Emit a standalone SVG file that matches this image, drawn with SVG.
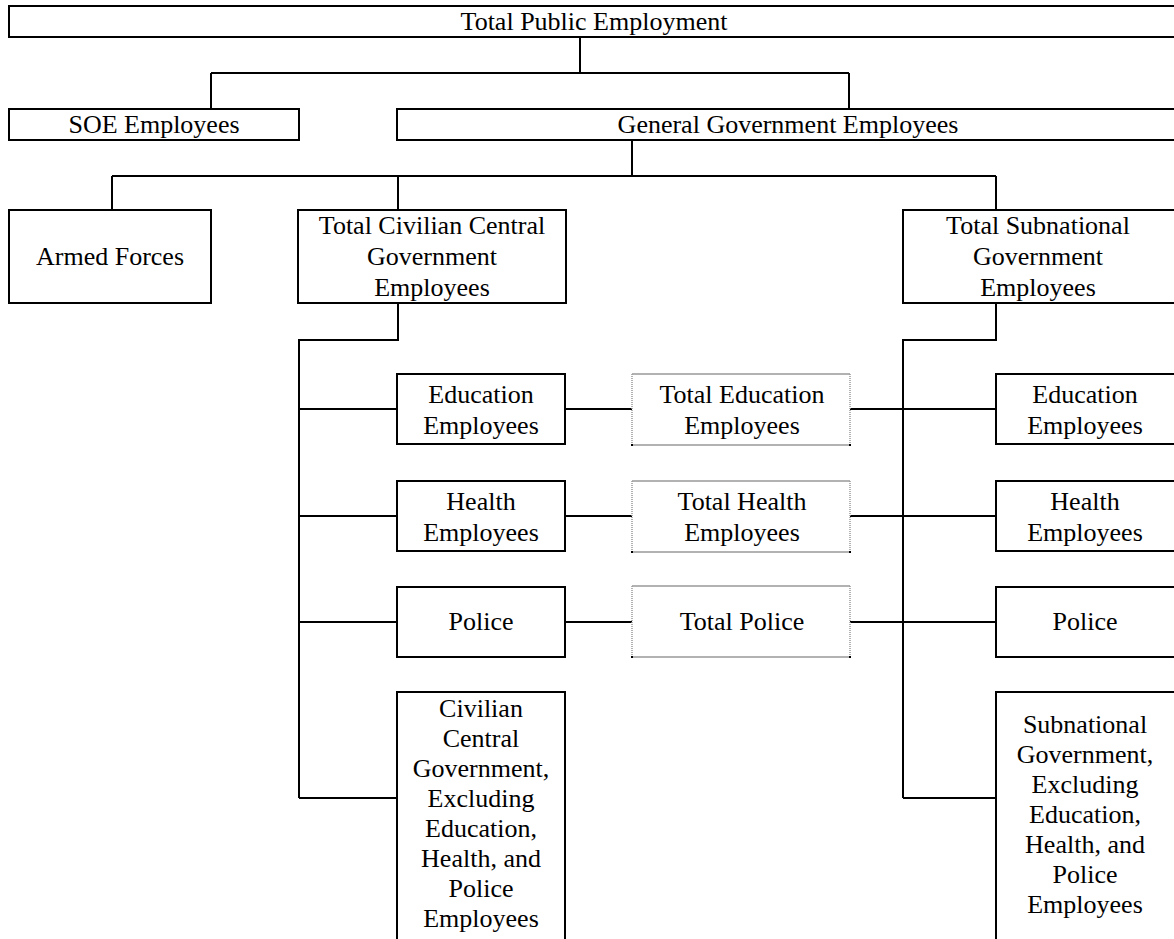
<svg xmlns="http://www.w3.org/2000/svg" width="1174" height="939" viewBox="0 0 1174 939">
<style>
.b{fill:#fff;stroke:#000;stroke-width:2}
.g{fill:#fff;stroke:none}
.gh{fill:none;stroke:#999;stroke-width:1.5}
.gv{fill:none;stroke:#999;stroke-width:1.5;stroke-dasharray:1 1}
.dot{fill:#000}
.c{fill:none;stroke:#000;stroke-width:2}
</style>
<rect width="1174" height="939" fill="#fff"/>
<g id="connectors">
<path class="c" d="M580,37V73M211,73H849M211,73V109M849,73V109"/>
<path class="c" d="M632,140V176M112,176H996M112,176V210M398,176V210M996,176V210"/>
<path class="c" d="M398,303V340H299V798M299,409H397M299,516H397M299,622H397M299,798H397"/>
<path class="c" d="M996,303V340H903V798M903,798H996"/>
<path class="c" d="M565,409H632M565,516H632M565,622H632"/>
<path class="c" d="M850,409H996M850,516H996M850,622H996"/>
</g>
<g font-family="'Liberation Serif', 'Times New Roman', serif" font-size="26" text-anchor="middle" fill="#000">
<g id="n-total"><rect class="b" x="9" y="6" width="1171" height="31"/><text x="594" y="30">Total Public Employment</text></g>
<g id="n-soe"><rect class="b" x="9" y="109" width="290" height="31"/><text x="154" y="133">SOE Employees</text></g>
<g id="n-gg"><rect class="b" x="397" y="109" width="783" height="31"/><text x="788" y="133">General Government Employees</text></g>
<g id="n-armed"><rect class="b" x="9" y="210" width="202" height="93"/><text x="110" y="265">Armed Forces</text></g>
<g id="n-cc"><rect class="b" x="298" y="210" width="268" height="93"/><text x="432" y="234">Total Civilian Central</text><text x="432" y="265">Government</text><text x="432" y="296">Employees</text></g>
<g id="n-sn"><rect class="b" x="903" y="210" width="277" height="93"/><text x="1038" y="234">Total Subnational</text><text x="1038" y="265">Government</text><text x="1038" y="296">Employees</text></g>
<g id="n-cc-edu"><rect class="b" x="397" y="374" width="168" height="70"/><text x="481" y="403">Education</text><text x="481" y="434">Employees</text></g>
<g id="n-cc-health"><rect class="b" x="397" y="481" width="168" height="70"/><text x="481" y="510">Health</text><text x="481" y="541">Employees</text></g>
<g id="n-cc-police"><rect class="b" x="397" y="587" width="168" height="70"/><text x="481" y="630">Police</text></g>
<g id="n-cc-other"><rect class="b" x="397" y="692" width="168" height="260"/><text x="481" y="717">Civilian</text><text x="481" y="747">Central</text><text x="481" y="777">Government,</text><text x="481" y="807">Excluding</text><text x="481" y="837">Education,</text><text x="481" y="867">Health, and</text><text x="481" y="897">Police</text><text x="481" y="927">Employees</text></g>
<g id="n-tot-edu"><rect class="g" x="632" y="374" width="218" height="71"/><path class="gh" d="M632,374H850M632,445H850"/><path class="gv" d="M632,374V445M850,374V445"/><rect class="dot" x="631" y="444" width="2" height="2"/><rect class="dot" x="849" y="444" width="2" height="2"/><text x="742" y="403">Total Education</text><text x="742" y="434">Employees</text></g>
<g id="n-tot-health"><rect class="g" x="632" y="481" width="218" height="71"/><path class="gh" d="M632,481H850M632,552H850"/><path class="gv" d="M632,481V552M850,481V552"/><rect class="dot" x="631" y="551" width="2" height="2"/><rect class="dot" x="849" y="551" width="2" height="2"/><text x="742" y="510">Total Health</text><text x="742" y="541">Employees</text></g>
<g id="n-tot-police"><rect class="g" x="632" y="586" width="218" height="71"/><path class="gh" d="M632,586H850M632,657H850"/><path class="gv" d="M632,586V657M850,586V657"/><rect class="dot" x="631" y="656" width="2" height="2"/><rect class="dot" x="849" y="656" width="2" height="2"/><text x="742" y="630">Total Police</text></g>
<g id="n-sn-edu"><rect class="b" x="996" y="374" width="184" height="70"/><text x="1085" y="403">Education</text><text x="1085" y="434">Employees</text></g>
<g id="n-sn-health"><rect class="b" x="996" y="481" width="184" height="70"/><text x="1085" y="510">Health</text><text x="1085" y="541">Employees</text></g>
<g id="n-sn-police"><rect class="b" x="996" y="587" width="184" height="70"/><text x="1085" y="630">Police</text></g>
<g id="n-sn-other"><rect class="b" x="996" y="692" width="184" height="260"/><text x="1085" y="733">Subnational</text><text x="1085" y="763">Government,</text><text x="1085" y="793">Excluding</text><text x="1085" y="823">Education,</text><text x="1085" y="853">Health, and</text><text x="1085" y="883">Police</text><text x="1085" y="913">Employees</text></g>
</g>
</svg>
